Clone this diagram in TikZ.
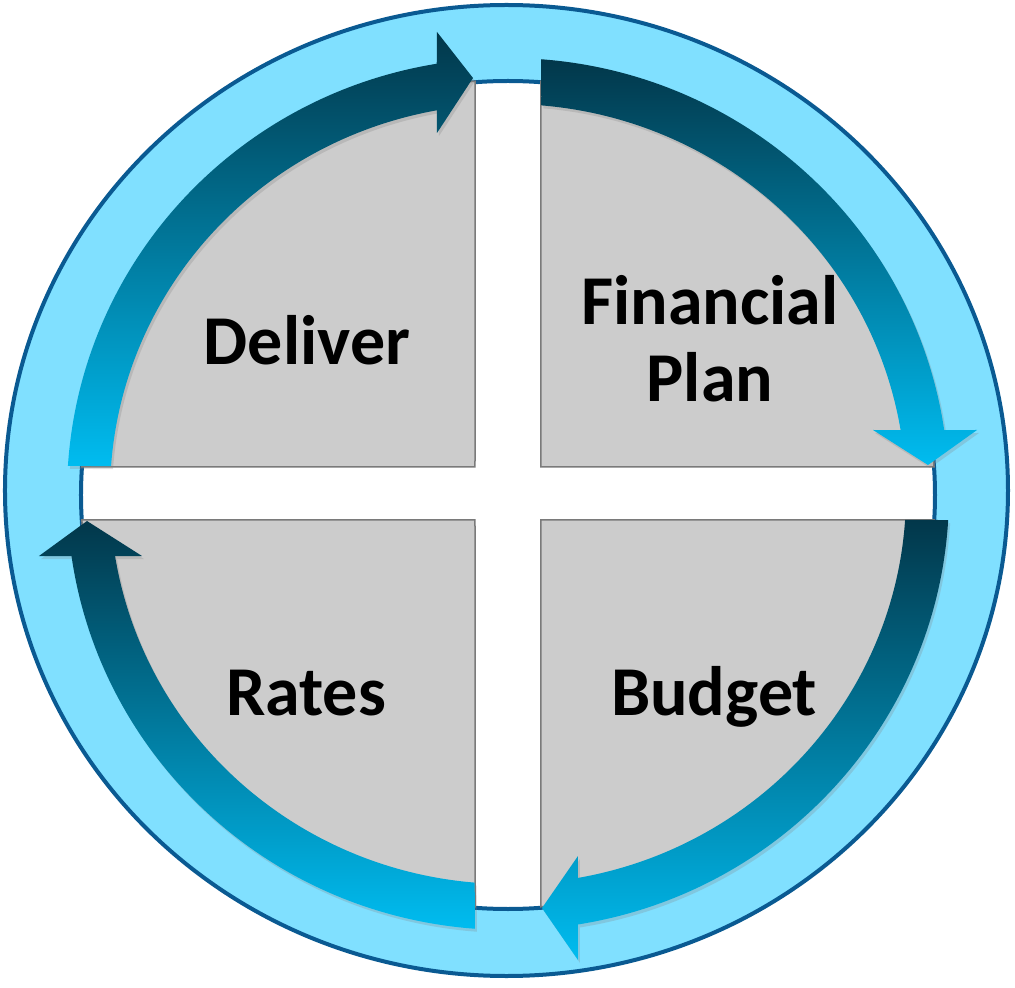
\documentclass[tikz,border=0pt]{standalone}
\usepackage{fontspec}
\setmainfont{Carlito}
\usetikzlibrary{shadows}

\definecolor{ringblue}{HTML}{0A5A92}
\definecolor{ringlight}{HTML}{80E0FF}
\definecolor{quadgray}{HTML}{CCCCCC}
\definecolor{edgegray}{HTML}{7A7A7A}
\definecolor{arrowdark}{HTML}{02374A}
\definecolor{arrowlight}{HTML}{00BCF0}

\tikzset{
  quadrant/.style={fill=quadgray, draw=edgegray, line width=1.5pt},
  cyclearrow/.style={top color=arrowdark, bottom color=arrowlight,
    drop shadow={shadow xshift=2pt, shadow yshift=-3pt, opacity=0.25}},
  cyclelabel/.style={font=\bfseries\fontsize{70}{77}\selectfont, align=center, text=black, inner sep=0pt},
}

\begin{document}
\begin{tikzpicture}[x=1pt, y=1pt]
\useasboundingbox (-508,-494) rectangle (507,494);
% ring
\draw[ringblue, line width=4pt, fill=ringlight] (-1.5,3.5) ellipse[x radius=501.5pt, y radius=485.5pt];
\draw[ringblue, line width=4pt, fill=white] (0,-1) ellipse[x radius=427pt, y radius=414pt];
% quadrants
\path[quadrant] (-33,27) -- (94.42:427pt and 414pt) arc[start angle=94.42, end angle=176.26, x radius=427pt, y radius=414pt] -- cycle;
\path[quadrant] (33,27) -- (85.58:427pt and 414pt) arc[start angle=85.58, end angle=3.74, x radius=427pt, y radius=414pt] -- cycle;
\path[quadrant] (-33,-26) -- (183.6:427pt and 414pt) arc[start angle=183.6, end angle=265.58, x radius=427pt, y radius=414pt] -- cycle;
\path[quadrant] (33,-26) -- (274.42:427pt and 414pt) arc[start angle=274.42, end angle=356.4, x radius=427pt, y radius=414pt] -- cycle;
% arrows
\path[cyclearrow] (176.3:441pt and 436pt) arc[start angle=176.3, end angle=99.3, x radius=441pt, y radius=436pt]
  -- (-71,462) -- (-35,416) -- (-71,361)
  -- (100.3:398pt and 390pt) arc[start angle=100.3, end angle=175.9, x radius=398pt, y radius=390pt] -- cycle;
\path[cyclearrow] (85.7:441pt and 436pt) arc[start angle=85.7, end angle=8.44, x radius=441pt, y radius=436pt]
  -- (469,64) -- (420,29) -- (365,64)
  -- (9.44:398pt and 390pt) arc[start angle=9.44, end angle=85.2, x radius=398pt, y radius=390pt] -- cycle;
\path[cyclearrow] (-3.42:441pt and 436pt) arc[start angle=-3.42, end angle=-80.87, x radius=441pt, y radius=436pt]
  -- (70,-466) -- (34,-414) -- (70,-362)
  -- (-79.87:398pt and 390pt) arc[start angle=-79.87, end angle=-3.82, x radius=398pt, y radius=390pt] -- cycle;
\path[cyclearrow] (265.7:441pt and 436pt) arc[start angle=265.7, end angle=188.18, x radius=441pt, y radius=436pt]
  -- (-469,-62) -- (-421,-27) -- (-366,-62)
  -- (189.15:398pt and 390pt) arc[start angle=189.15, end angle=265.2, x radius=398pt, y radius=390pt] -- cycle;
% labels
\node[cyclelabel, anchor=base] (deliver) at (-201,129) {Deliver};
\node[cyclelabel, anchor=base] (plan) at (202,92) {Financial\\Plan};
\node[cyclelabel, anchor=base] (budget) at (206,-221) {Budget};
\node[cyclelabel, anchor=base] (rates) at (-202,-221) {Rates};
\end{tikzpicture}
\end{document}
